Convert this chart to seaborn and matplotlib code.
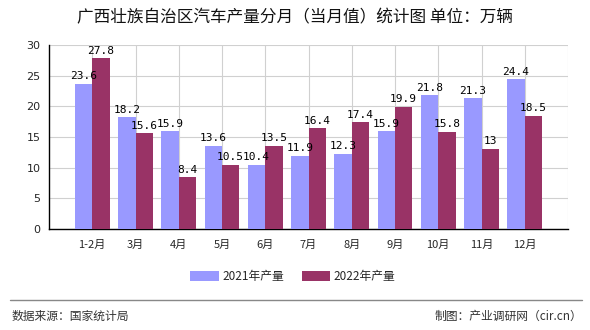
import matplotlib
matplotlib.use("Agg")
import matplotlib.pyplot as plt
import seaborn as sns
import pandas as pd
import numpy as np

months = ["1-2月", "3月", "4月", "5月", "6月", "7月", "8月", "9月", "10月", "11月", "12月"]
series_names = ["2021年产量", "2022年产量"]
values_2021 = [23.6, 18.2, 15.9, 13.6, 10.4, 11.9, 12.3, 15.9, 21.8, 21.3, 24.4]
values_2022 = [27.8, 15.6, 8.4, 10.5, 13.5, 16.4, 17.4, 19.9, 15.8, 13, 18.5]
labels_2021 = ["23.6", "18.2", "15.9", "13.6", "10.4", "11.9", "12.3", "15.9", "21.8", "21.3", "24.4"]
labels_2022 = ["27.8", "15.6", "8.4", "10.5", "13.5", "16.4", "17.4", "19.9", "15.8", "13", "18.5"]
colors = ["#9999FF", "#993366"]
y_ticks = [0, 5, 10, 15, 20, 25, 30]

sns.set_style("white")
plt.rcParams['font.family'] = ['Noto Sans CJK SC', 'DejaVu Sans']

df = pd.DataFrame({
    "month": months * 2,
    "value": values_2021 + values_2022,
    "series": [series_names[0]] * len(months) + [series_names[1]] * len(months),
})

fig = plt.figure(figsize=(5.9, 3.3), dpi=100)
ax = fig.add_axes([49/590, 1-229/330, (568-49)/590, (229-45)/330])

sns.barplot(data=df, x="month", y="value", hue="series", order=months,
            hue_order=series_names, palette=colors, width=0.8, saturation=1,
            ax=ax, legend=True, edgecolor="none", linewidth=0, zorder=3)

ax.set_xlim(-1, 11)
ax.set_ylim(0, 30)
ax.set_yticks(y_ticks)
ax.set_yticklabels([str(t) for t in y_ticks], fontsize=8, family=['DejaVu Sans'])
ax.set_xticks(list(range(12)))
ax.set_xticklabels(months + [""], fontsize=8)
ax.set_xlabel("")
ax.set_ylabel("")

ax.grid(True, axis="both", color="#d0d0d0", linewidth=0.8, zorder=0)
ax.set_axisbelow(True)
for s in ["top", "right"]:
    ax.spines[s].set_visible(False)
for s in ["left", "bottom"]:
    ax.spines[s].set_color("black")
    ax.spines[s].set_linewidth(1)
ax.tick_params(axis="both", length=4, width=1, color="black", direction="out", pad=2)
ax.tick_params(axis="x", pad=4)

for container, labs in zip(ax.containers, [labels_2021, labels_2022]):
    ax.bar_label(container, labels=labs, padding=2, fontsize=8,
                 family=['DejaVu Sans Mono'], color="black")

leg = ax.legend(loc="upper center", bbox_to_anchor=(0.5 - 0.03, -0.165), ncol=2, frameon=False,
                fontsize=8.5, handlelength=2.4, handleheight=0.9, columnspacing=1.5,
                handletextpad=0.3)

fig.text(0.5, 1-18/330, "广西壮族自治区汽车产量分月（当月值）统计图 单位：万辆",
         ha="center", va="center", fontsize=12, color="#111111")

fig.add_artist(plt.Line2D([10/590, 582/590], [1-300/330, 1-300/330],
                          color="#888888", linewidth=1, transform=fig.transFigure))
fig.text(12/590, 1-316/330, "数据来源：国家统计局", ha="left", va="center",
         fontsize=8.5, color="#333333")
fig.text(582/590, 1-316/330, "制图：产业调研网（cir.cn）", ha="right", va="center",
         fontsize=8.5, color="#333333")

fig.savefig("out.png", dpi=100)
